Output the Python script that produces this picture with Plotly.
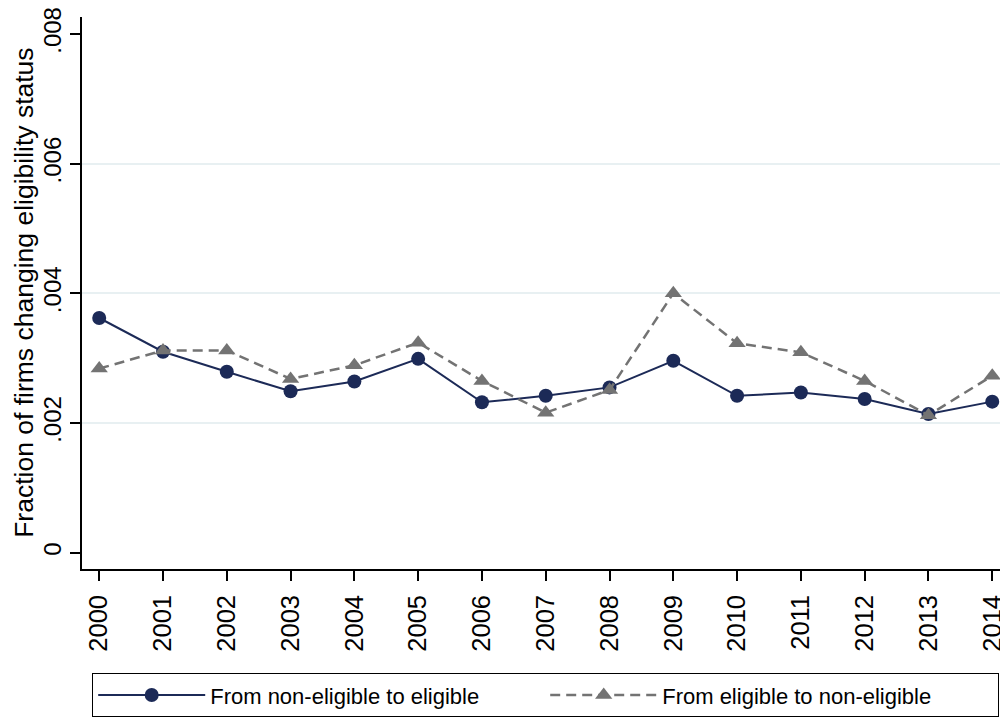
import plotly.graph_objects as go

years = list(range(2000, 2015))
non_to_elig = [0.00362, 0.00310, 0.00279, 0.00249, 0.00264, 0.00299, 0.00232, 0.00242,
               0.00255, 0.00296, 0.00242, 0.00247, 0.00237, 0.00214, 0.00233]
elig_to_non = [0.00284, 0.00312, 0.00312, 0.00268, 0.00289, 0.00324, 0.00265, 0.00216,
               0.00251, 0.00400, 0.00323, 0.00309, 0.00265, 0.00212, 0.00273]
ytick_vals = [0, 0.002, 0.004, 0.006, 0.008]
ytick_text = ["0", ".002", ".004", ".006", ".008"]
grid_vals = [0.002, 0.004, 0.006]
y_title = "Fraction of firms changing eligibility status"

NAVY = "#1c2a57"
GRAY = "#737373"
FONT = "Liberation Sans, Arial, sans-serif"

fig = go.Figure()
fig.add_trace(go.Scatter(
    x=years, y=non_to_elig, mode="lines+markers",
    name="From non-eligible to eligible",
    line=dict(color=NAVY, width=2),
    marker=dict(symbol="circle", size=14, color=NAVY),
))
fig.add_trace(go.Scatter(
    x=years, y=elig_to_non, mode="lines+markers",
    name="From eligible to non-eligible",
    line=dict(color=GRAY, width=2.5, dash="10px,6px"),
    marker=dict(symbol="triangle-up", size=15, color=GRAY),
))
# invisible trace to host grid axis
fig.add_trace(go.Scatter(x=[years[0]], y=[None], yaxis="y2", showlegend=False,
                         hoverinfo="skip", mode="markers"))

yr = [-0.000251, 0.008262]
# page has an 8px body margin; figure is sized/margined to compensate
fig.update_layout(
    width=1000, height=716,
    paper_bgcolor="white", plot_bgcolor="white",
    font=dict(family=FONT, color="black"),
    margin=dict(l=74, r=3, t=9, b=155, autoexpand=False),
    xaxis=dict(
        range=[1999.73, 2014.2], tickvals=years, ticktext=[str(y) for y in years],
        tickangle=-90, ticks="outside", ticklen=10, tickwidth=1.5, tickcolor="black",
        showline=True, linecolor="black", linewidth=1.5, showgrid=False, zeroline=False,
        tickfont=dict(size=25.5, family=FONT), automargin=False,
        ticklabeloverflow="allow", ticklabelstandoff=4,
    ),
    yaxis=dict(
        range=yr, tickvals=ytick_vals, ticktext=ytick_text, tickangle=-90,
        ticks="outside", ticklen=10, tickwidth=1.5, tickcolor="black",
        showline=True, linecolor="black", linewidth=1.5, showgrid=False, zeroline=False,
        tickfont=dict(size=24, family=FONT), automargin=False,
        ticklabeloverflow="allow",
    ),
    yaxis2=dict(
        range=yr, overlaying="y", tickvals=grid_vals, showticklabels=False,
        showgrid=True, gridcolor="#e8f0f2", gridwidth=2, zeroline=False, showline=False,
        layer="below traces", automargin=False,
    ),
    legend=dict(
        orientation="h", xref="container", yref="container",
        x=0.084, xanchor="left", y=0.0712, yanchor="top",
        bordercolor="black", borderwidth=1.2, font=dict(size=22, family=FONT),
        itemwidth=107, entrywidth=330,
    ),
    annotations=[dict(
        text=y_title, textangle=-90, xref="paper", yref="paper",
        x=-0.063, y=0.5, xanchor="center", yanchor="middle", showarrow=False,
        font=dict(size=26.5, family=FONT, color="black"),
    )],
)
fig.write_html("out.html")
